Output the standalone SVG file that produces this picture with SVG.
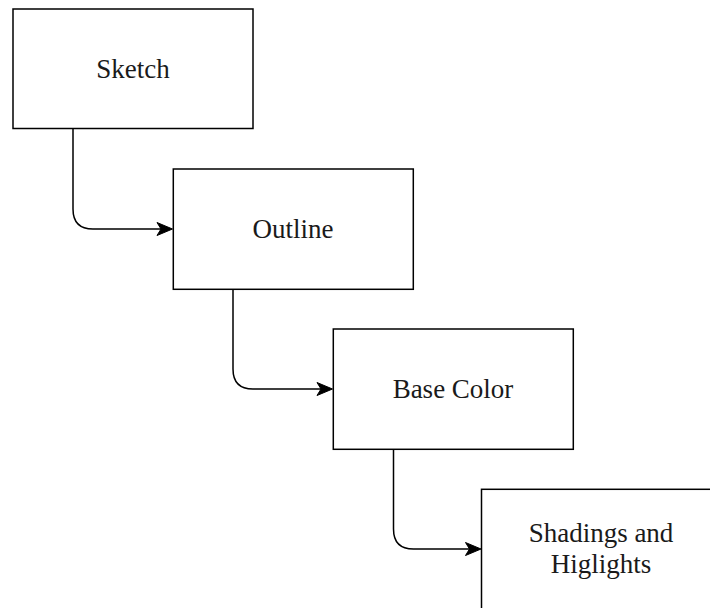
<svg xmlns="http://www.w3.org/2000/svg" width="710" height="608" viewBox="0 0 710 608">
  <defs>
    <style>
      .box { fill: #ffffff; stroke: #000000; stroke-width: 1.5; }
      .label { font-family: "Liberation Serif", "Times New Roman", serif; font-size: 27px; fill: #1a1a1a; text-anchor: middle; }
      .edge { fill: none; stroke: #000000; stroke-width: 1.5; }
      .head { fill: #000000; stroke: #000000; stroke-width: 1; stroke-linejoin: miter; }
    </style>
  </defs>
  <rect width="710" height="608" fill="#ffffff"/>

  <g id="connectors">
    <!-- Sketch -> Outline -->
    <path class="edge" d="M73,128.5 V209 Q73,229 93,229 H162"/>
    <path class="head" d="M172.5,229 L157,222.5 L161,229 L157,235.5 Z"/>
    <!-- Outline -> Base Color -->
    <path class="edge" d="M233,289.5 V369 Q233,389 253,389 H322"/>
    <path class="head" d="M332.5,389 L317,382.5 L321,389 L317,395.5 Z"/>
    <!-- Base Color -> Shadings and Higlights -->
    <path class="edge" d="M393.5,449.5 V529 Q393.5,549 413.5,549 H470"/>
    <path class="head" d="M481,549 L465.5,542.5 L469.5,549 L465.5,555.5 Z"/>
  </g>

  <g id="node-sketch">
    <rect class="box" x="13" y="9" width="240" height="119.5"/>
    <text class="label" x="133" y="78">Sketch</text>
  </g>

  <g id="node-outline">
    <rect class="box" x="173.3" y="169" width="240" height="120.3"/>
    <text class="label" x="293" y="238">Outline</text>
  </g>

  <g id="node-base-color">
    <rect class="box" x="333.3" y="329" width="240" height="120.3"/>
    <text class="label" x="453" y="398">Base Color</text>
  </g>

  <g id="node-shadings">
    <rect class="box" x="481.5" y="489.3" width="240" height="130"/>
    <text class="label" x="601" y="541.5">Shadings and</text>
    <text class="label" x="601" y="573">Higlights</text>
  </g>
</svg>
